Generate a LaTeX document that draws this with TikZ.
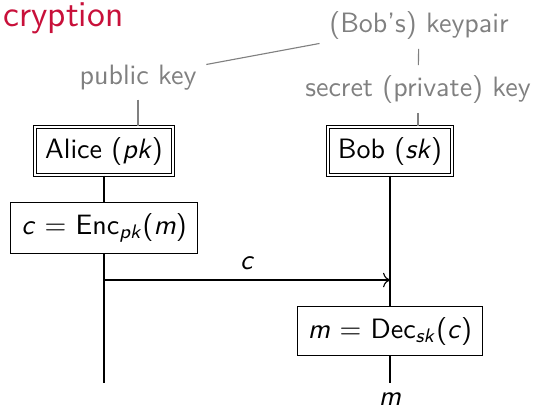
\documentclass[tikz,border=0pt]{standalone}
\usetikzlibrary{arrows.meta}
\renewcommand{\familydefault}{\sfdefault}
\definecolor{titlered}{RGB}{200,16,58}
\newcommand{\vv}[1]{\textit{#1}}
\begin{document}
\begin{tikzpicture}[x=0.35714pt,y=-0.35714pt,
  every node/.style={font=\fontsize{10}{12}\selectfont},
  lbl/.style={text=gray},
  party/.style={draw,double,double distance=0.8pt,inner sep=3.6pt},
  stepbox/.style={draw,inner sep=3.8pt},
  lnk/.style={draw=gray},
  life/.style={draw=black}]
\useasboundingbox (0,0) rectangle (537,407);
\node[anchor=base west,inner sep=0,text=titlered,font=\fontsize{13}{15}\selectfont] (title) at (3,26) {cryption};
\node[lbl,anchor=base] (keypair) at (419,32) {(Bob's) keypair};
\node[lbl,anchor=base] (secret) at (418,96) {secret (private) key};
\node[lbl,anchor=base] (public) at (138,84) {public key};
\node[party] (alice) at (104,151) {Alice (\vv{pk})};
\node[party] (bob) at (390,151) {Bob (\vv{sk})};
\node[stepbox] (enc) at (104,228) {\vv{c} = Enc\textsubscript{\vv{pk}}(\vv{m})};
\node[stepbox] (dec) at (390,331) {\vv{m} = Dec\textsubscript{\vv{sk}}(\vv{c})};
\node[anchor=north] (mout) at (390,383) {\vv{m}};
\coordinate (ca) at (104,280);
\coordinate (cb) at (390,280);
\coordinate (aend) at (104,383);
\draw[lnk] (keypair) -- (public);
\draw[lnk] (keypair) -- (secret);
\draw[lnk] (public.south) -- (public.south |- alice.north);
\draw[lnk] (secret.south) -- (secret.south |- bob.north);
\draw[life] (alice) -- (enc);
\draw[life] (enc) -- (aend);
\draw[life] (bob) -- (dec);
\draw[life] (dec) -- (mout);
\draw[->] (ca) -- node[above] {\vv{c}} (cb);
\end{tikzpicture}
\end{document}
